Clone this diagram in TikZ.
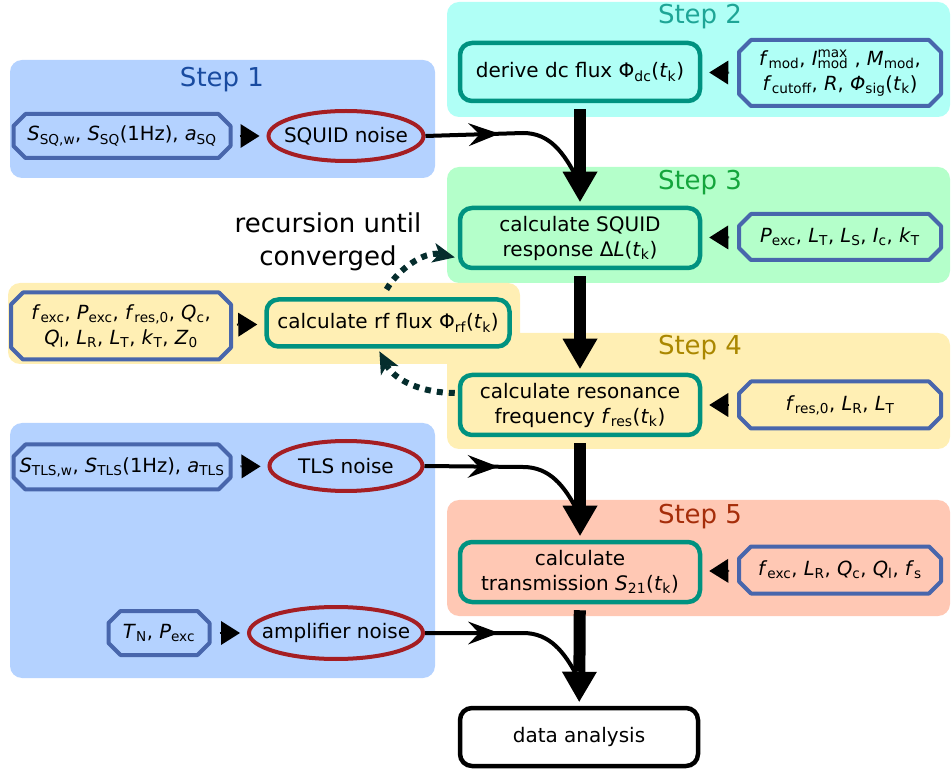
\documentclass[tikz,border=0pt]{standalone}
\usepackage{fontspec}
\setmainfont{DejaVu Sans}
\usetikzlibrary{arrows.meta,shapes.geometric,decorations.markings,calc}
\definecolor{bgblue}{RGB}{180,210,255}
\definecolor{bgcyan}{RGB}{176,255,246}
\definecolor{bggreen}{RGB}{180,255,202}
\definecolor{bgyellow}{RGB}{255,239,180}
\definecolor{bgsalmon}{RGB}{255,200,180}
\definecolor{boxc}{RGB}{0,146,128}
\definecolor{octc}{RGB}{72,102,172}
\definecolor{noisec}{RGB}{165,30,35}
\definecolor{recc}{RGB}{5,45,45}
\definecolor{t1c}{RGB}{25,75,160}
\definecolor{t2c}{RGB}{30,165,150}
\definecolor{t3c}{RGB}{20,165,60}
\definecolor{t4c}{RGB}{170,135,0}
\definecolor{t5c}{RGB}{165,45,10}
\newcommand{\vi}[1]{\textit{#1}}
\newcommand{\sbs}[1]{\textsubscript{#1}}
\newcommand{\fsz}{\fontsize{20}{25}\selectfont}
\newcommand{\fsoct}{\fontsize{19.5}{25}\selectfont}
\newcommand{\fstitle}{\fontsize{26}{30}\selectfont}
\newcommand{\octa}[1]{\draw[octl] ([xshift=12pt]#1.north west) -- ([xshift=-12pt]#1.north east) -- ([yshift=-12pt]#1.north east) -- ([yshift=12pt]#1.south east) -- ([xshift=-12pt]#1.south east) -- ([xshift=12pt]#1.south west) -- ([yshift=12pt]#1.south west) -- ([yshift=-12pt]#1.north west) -- cycle;}
\tikzset{
  bgarea/.style={rounded corners=12pt},
  stitle/.style={font=\fstitle, inner sep=0pt},
  stepbox/.style={draw=boxc, line width=4.5pt, rounded corners=12pt, align=center, inner sep=0pt, font=\fsz, minimum width=240pt, minimum height=58pt},
  parbox/.style={draw=none, align=center, inner sep=0pt, outer sep=0pt, font=\fsoct},
  octl/.style={draw=octc, line width=4pt, line join=round},
  noisebox/.style={ellipse, draw=noisec, line width=4pt, inner xsep=-14pt, inner ysep=0pt, font=\fsz},
  feed/.style={-{Triangle[length=19pt,width=24pt,line width=0pt]}, line width=2pt, shorten <=#1, shorten >=7pt},
  bigarrow/.style={line width=12pt, -{Triangle[length=30pt,width=35pt,line width=0pt]}, shorten <=6pt, shorten >=4pt},
  noisecon/.style={line width=4pt, postaction={decorate}, decoration={markings, mark=at position 74pt with {\arrow{Stealth[length=31pt,width=23pt,inset=11pt,line width=0pt]}}}},
  recarrow/.style={draw=recc, line width=6pt, dash pattern=on 6pt off 6pt, -{Stealth[length=22pt,width=20pt,inset=6pt,line width=0pt]}}
}
\begin{document}
\begin{tikzpicture}[x=1pt,y=-1pt]
\useasboundingbox (0,0) rectangle (951,775);
% background areas
\fill[bgblue,bgarea] (10,60) rectangle (435,178);
\fill[bgcyan,bgarea] (447,2) rectangle (950,117);
\fill[bggreen,bgarea] (447,167) rectangle (950,283);
\fill[bgyellow,bgarea] (8,283) rectangle (520,364);
\fill[bgyellow,bgarea] (447,333) rectangle (950,449);
\fill[bgblue,bgarea] (10,423) rectangle (435,678);
\fill[bgsalmon,bgarea] (447,500) rectangle (950,616);
% titles
\node[stitle, text=t1c] (t1) at (222,80) {Step 1};
\node[stitle, text=t2c] (t2) at (700,17) {Step 2};
\node[stitle, text=t3c] (t3) at (700,183) {Step 3};
\node[stitle, text=t4c] (t4) at (700,348) {Step 4};
\node[stitle, text=t5c] (t5) at (700,517) {Step 5};
% step boxes
\node[stepbox] (s2) at (580,72) {derive dc flux Φ\sbs{dc}(\vi{t}\sbs{k})};
\node[stepbox, minimum height=60pt] (s3) at (580,238) {calculate SQUID\\response Δ\vi{L}(\vi{t}\sbs{k})};
\node[stepbox, minimum width=243pt, minimum height=47pt] (rf) at (388,323) {calculate rf flux Φ\sbs{rf}(\vi{t}\sbs{k})};
\node[stepbox, minimum height=60pt] (s4) at (580,405) {calculate resonance\\frequency \vi{f}\sbs{res}(\vi{t}\sbs{k})};
\node[stepbox, minimum height=60pt] (s5) at (580,572) {calculate\\transmission \vi{S}\sbs{21}(\vi{t}\sbs{k})};
\node[stepbox, draw=black, minimum width=238pt] (da) at (579,737) {data analysis};
% parameter octagons
\node[parbox, minimum width=217pt, minimum height=44pt] (p1) at (122,136) {\vi{S}\sbs{SQ,w}, \vi{S}\sbs{SQ}(1Hz), \vi{a}\sbs{SQ}};
\node[parbox, minimum width=202pt, minimum height=66pt] (p2) at (840,73) {\vi{f}\sbs{mod}, \vi{I}\rlap{\textsuperscript{max}}\sbs{mod} , \vi{M}\sbs{mod},\\\vi{f}\sbs{cutoff}, \vi{R}, \vi{Φ}\sbs{sig}(\vi{t}\sbs{k})};
\node[parbox, minimum width=202pt, minimum height=46pt] (p3) at (840,237) {\vi{P}\sbs{exc}, \vi{L}\sbs{T}, \vi{L}\sbs{S}, \vi{I}\sbs{c}, \vi{k}\sbs{T}};
\node[parbox, minimum width=220pt, minimum height=67pt] (prf) at (121,326) {\vi{f}\sbs{exc}, \vi{P}\sbs{exc}, \vi{f}\sbs{res,0}, \vi{Q}\sbs{c},\\\vi{Q}\sbs{l}, \vi{L}\sbs{R}, \vi{L}\sbs{T}, \vi{k}\sbs{T}, \vi{Z}\sbs{0}};
\node[parbox, minimum width=202pt, minimum height=47pt] (p4) at (840,405) {\vi{f}\sbs{res,0}, \vi{L}\sbs{R}, \vi{L}\sbs{T}};
\node[parbox, minimum width=217pt, minimum height=45pt] (ptls) at (122,467) {\vi{S}\sbs{TLS,w}, \vi{S}\sbs{TLS}(1Hz), \vi{a}\sbs{TLS}};
\node[parbox, minimum width=101pt, minimum height=44pt] (pamp) at (159,633) {\vi{T}\sbs{N}, \vi{P}\sbs{exc}};
\node[parbox, minimum width=202pt, minimum height=47pt] (p5) at (840,570) {\vi{f}\sbs{exc}, \vi{L}\sbs{R}, \vi{Q}\sbs{c}, \vi{Q}\sbs{l}, \vi{f}\sbs{s}};
\foreach \n in {p1,p2,p3,prf,p4,ptls,pamp,p5} {\octa{\n}}
% noise ellipses
\node[noisebox, minimum width=155pt, minimum height=50pt] (n1) at (346,136) {SQUID noise};
\node[noisebox, minimum width=153pt, minimum height=50pt] (n2) at (346,466) {TLS noise};
\node[noisebox, minimum width=174pt, minimum height=52pt] (n3) at (336,633) {amplifier noise};
% recursion label
\node[font=\fontsize{26}{33}\selectfont, align=center, inner sep=0pt] (rec) at (328,242) {recursion until\\converged};
% merge points
\coordinate (m1a) at (523,133);
\coordinate (m1b) at (577,178);
\coordinate (m2a) at (523,467);
\coordinate (m2b) at (577,510);
\coordinate (m3a) at (523,633);
\coordinate (m3b) at (577,676);
% noise connectors
\draw[noisecon] (n1.east) -- (m1a) to[out=0,in=118] (m1b);
\draw[noisecon] (n2.east) -- (m2a) to[out=0,in=118] (m2b);
\draw[noisecon] (n3.east) -- (m3a) to[out=0,in=118] (m3b);
% main flow
\draw[bigarrow] (s2) -- (s3);
\draw[bigarrow] (s3) -- (s4);
\draw[bigarrow] (s4) -- (s5);
\draw[bigarrow] (s5) -- (da);
% parameter feeds
\draw[feed=9pt] (p1) -- (n1);
\draw[feed=10pt] (ptls) -- (n2);
\draw[feed=10pt] (pamp) -- (n3);
\draw[feed=6pt] (prf) -- (rf);
\draw[feed=10pt] (p2) -- (s2);
\draw[feed=10pt] (p3) -- (s3);
\draw[feed=10pt] (p4) -- (s4);
\draw[feed=10pt] (p5) -- (s5);
% recursion
\draw[recarrow, shorten <=9pt, shorten >=3pt] ([xshift=-6pt]rf.north) to[out=60,in=168] ([yshift=-20pt]s3.west);
\draw[recarrow, shorten <=3pt, shorten >=3pt] ([yshift=12pt]s4.west) to[out=180,in=-62] ([xshift=-10pt]rf.south);
\end{tikzpicture}
\end{document}
